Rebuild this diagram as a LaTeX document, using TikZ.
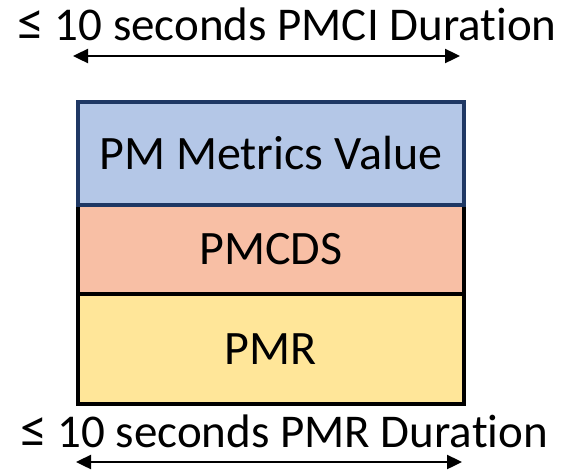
\documentclass[tikz,border=0pt]{standalone}
\usepackage{fontspec}
\setmainfont[RawFeature=-liga]{Carlito}
\usetikzlibrary{arrows.meta}
\definecolor{valfill}{HTML}{B4C7E7}
\definecolor{valedge}{HTML}{1F3864}
\definecolor{dsfill}{HTML}{F8BFA5}
\definecolor{rfill}{HTML}{FFE699}
\newcommand{\leqsym}{\scalebox{1.15}{≤}}
\begin{document}
\begin{tikzpicture}[x=1pt,y=-1pt,
  layer/.style={draw=black,line width=3.5pt,minimum width=386pt,inner sep=0pt,font=\fontsize{48}{52}\selectfont},
  lbl/.style={inner sep=0pt,font=\fontsize{47}{52}\selectfont},
  span/.style={{Triangle[length=15pt,width=14pt]}-{Triangle[length=15pt,width=14pt]},line width=2.4pt}]
\useasboundingbox (0,0) rectangle (565,472);
% stacked record layers
\node[layer,fill=rfill,minimum height=110pt,anchor=north west] (pmr) at (76,292) {PMR};
\node[layer,fill=dsfill,minimum height=89pt,anchor=north west] (pmcds) at (76,203) {PMCDS};
\node[layer,draw=valedge,fill=valfill,minimum height=103pt,anchor=north west] (val) at (76,100) {PM Metrics Value};
% duration labels and spans
\node[lbl,anchor=base] (top) at (287,40) {\leqsym{} 10 seconds PMCI Duration};
\coordinate (tl) at (73,56);
\coordinate (tr) at (460,56);
\draw[span] (tl) -- (tr);
\node[lbl,anchor=base] (bot) at (284,447) {\leqsym{} 10 seconds PMR Duration};
\coordinate (bl) at (76,462);
\coordinate (br) at (462,462);
\draw[span] (bl) -- (br);
\end{tikzpicture}
\end{document}
